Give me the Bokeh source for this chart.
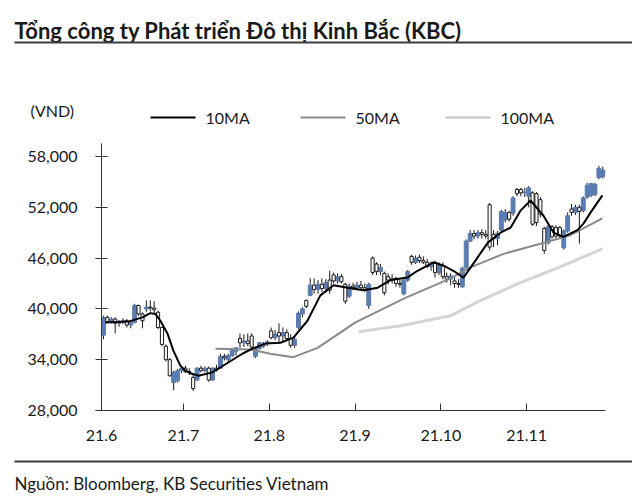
import numpy as np
from bokeh.plotting import figure
from bokeh.models import Range1d, FixedTicker, NumeralTickFormatter, LinearAxis
from bokeh.core.properties import value
from bokeh.embed import file_html
from bokeh.resources import INLINE

TITLE = "Tổng công ty Phát triển Đô thị Kinh Bắc (KBC)"
SOURCE = "Nguồn: Bloomberg, KB Securities Vietnam"
UNIT = "(VND)"
FONT = "Lato"

# Daily OHLC, thousand VND (trading days from 1 Jun 2021)
opens = [36.9, 39.0, 38.5, 38.8, 38.3, 38.5, 38.6, 38.1, 38.4, 40.4,
         39.4, 40.0, 40.2, 40.1, 39.6, 37.8, 35.6, 34.0, 31.3, 31.5,
         32.7, 33.0, 32.6, 31.9, 31.6, 33.0, 32.7, 33.0, 31.6, 33.0,
         33.0, 34.4, 34.0, 34.5, 35.0, 36.5, 36.0, 36.2, 36.8, 34.4,
         35.3, 35.6, 35.9, 37.4, 36.6, 37.2, 36.8, 37.2, 36.5, 35.7,
         37.8, 39.4, 41.0, 41.6, 42.8, 42.3, 42.9, 42.4, 43.4, 44.0,
         43.3, 43.8, 42.9, 41.5, 42.7, 42.5, 42.8, 42.5, 40.4, 46.0,
         45.3, 44.4, 44.2, 43.8, 43.4, 43.6, 43.0, 41.8, 43.4, 46.2,
         45.5, 46.1, 45.7, 45.5, 45.0, 45.4, 44.3, 45.1, 43.8, 43.5,
         43.3, 43.0, 42.6, 44.9, 48.0, 48.9, 48.6, 49.0, 48.8, 52.3,
         48.8, 48.3, 49.3, 50.5, 51.4, 51.3, 54.1, 54.1, 53.7, 53.3,
         53.7, 53.6, 52.9, 49.5, 47.8, 49.7, 49.6, 49.6, 47.2, 49.2,
         51.8, 51.4, 52.0, 51.6, 53.2, 53.4, 53.5, 55.5, 55.6]
highs = [39.2, 39.2, 39.0, 39.0, 38.7, 38.9, 38.8, 38.6, 40.6, 40.5,
         39.6, 41.0, 41.0, 40.9, 39.8, 37.9, 35.8, 34.2, 32.7, 32.9,
         33.3, 33.3, 33.0, 32.2, 33.1, 33.3, 33.2, 33.2, 33.1, 33.4,
         34.7, 34.7, 34.7, 35.4, 35.5, 37.1, 37.0, 37.1, 37.1, 35.5,
         36.1, 36.1, 36.3, 37.8, 37.5, 38.3, 37.8, 37.6, 37.0, 36.9,
         39.7, 40.2, 41.1, 43.6, 43.6, 43.4, 43.6, 43.5, 44.5, 44.3,
         44.2, 44.1, 43.1, 43.0, 43.1, 43.2, 43.3, 43.0, 43.1, 46.2,
         45.5, 45.3, 44.4, 44.2, 44.1, 43.8, 43.5, 43.6, 44.6, 46.4,
         46.3, 46.4, 46.2, 45.9, 45.6, 45.7, 45.5, 45.5, 44.3, 44.2,
         44.0, 43.5, 45.0, 48.2, 49.3, 49.3, 49.3, 49.4, 49.3, 52.5,
         49.3, 49.2, 51.7, 51.8, 51.6, 53.3, 54.3, 54.3, 54.3, 54.5,
         53.9, 53.8, 53.2, 49.7, 49.9, 49.9, 49.9, 49.8, 49.4, 51.4,
         52.4, 52.3, 52.3, 53.3, 54.9, 54.9, 54.9, 56.9, 56.8]
lows = [36.4, 38.3, 38.3, 37.1, 37.9, 38.2, 37.8, 37.7, 38.3, 39.2,
        37.7, 39.6, 39.7, 39.5, 37.6, 35.6, 33.8, 32.0, 30.4, 31.3,
        32.4, 32.4, 32.2, 30.3, 31.5, 32.5, 32.5, 31.4, 31.5, 32.6,
        32.9, 33.9, 33.7, 34.3, 34.5, 35.4, 35.5, 35.6, 35.3, 34.2,
        35.2, 35.4, 35.6, 36.4, 36.3, 35.9, 36.2, 36.3, 35.4, 35.4,
        37.6, 39.0, 40.1, 41.5, 41.8, 41.8, 42.0, 41.9, 41.8, 43.0,
        43.0, 43.0, 40.6, 41.3, 42.2, 42.2, 42.3, 42.0, 40.0, 44.0,
        44.0, 44.0, 41.6, 42.9, 43.0, 42.6, 42.5, 41.6, 43.2, 45.2,
        45.3, 45.4, 45.3, 44.8, 44.5, 43.7, 44.0, 43.5, 43.1, 42.8,
        42.5, 42.5, 42.5, 44.7, 47.9, 48.2, 48.3, 48.3, 48.3, 46.9,
        47.3, 47.5, 49.1, 50.2, 50.3, 51.0, 53.3, 53.3, 53.2, 52.0,
        49.8, 49.8, 50.8, 46.5, 47.6, 48.3, 48.3, 48.4, 47.0, 49.0,
        51.0, 51.1, 47.7, 51.4, 53.0, 53.2, 53.3, 55.3, 55.4]
closes = [39.0, 38.5, 38.8, 38.3, 38.5, 38.6, 38.1, 38.4, 40.4, 39.4,
          38.6, 40.2, 40.1, 39.9, 37.8, 35.8, 34.0, 32.1, 32.5, 32.7,
          33.0, 32.6, 32.5, 30.6, 33.0, 32.7, 33.0, 31.6, 33.0, 32.8,
          34.4, 34.2, 34.5, 35.2, 35.4, 36.0, 36.2, 35.9, 35.5, 35.3,
          36.0, 35.9, 36.1, 36.6, 37.0, 36.8, 37.2, 36.5, 35.7, 36.4,
          39.5, 40.0, 40.3, 42.8, 42.3, 42.9, 42.4, 43.1, 42.2, 43.3,
          43.8, 43.2, 40.9, 42.7, 42.5, 42.8, 42.5, 42.3, 42.9, 44.3,
          44.4, 44.9, 41.9, 43.4, 43.6, 43.0, 42.9, 43.4, 44.4, 45.5,
          46.0, 45.7, 45.5, 45.0, 45.3, 44.3, 45.1, 43.8, 43.5, 43.9,
          43.0, 42.9, 44.8, 48.0, 48.9, 48.6, 49.0, 48.8, 48.6, 47.3,
          48.3, 48.9, 51.5, 51.4, 50.6, 53.1, 53.6, 53.7, 53.8, 54.3,
          50.0, 50.2, 51.2, 46.9, 49.7, 48.5, 48.6, 48.6, 49.2, 51.0,
          51.4, 52.0, 51.5, 53.1, 54.6, 54.8, 54.7, 56.6, 56.4]

# Moving averages (trading-day index, thousand VND)
ma10_day = [0.5, 6.4, 10, 12, 13.3, 14.6, 16.4, 17.9, 19.7, 21, 22.3, 24.4, 27.9,
            32.1, 35.6, 38.2, 41.5, 45.4, 48.7, 52.3, 55.6, 59, 62.6, 66.7, 70.3,
            73.6, 77.9, 80.5, 84.6, 87.2, 89.7, 92.3, 94.9, 98.5, 101.8, 104.4,
            106.9, 109.5, 112.8, 115.4, 117.9, 121.5, 123.1, 124.9, 127.9]
ma10_val = [38.4, 38.5, 39.0, 39.5, 39.4, 38.6, 37.1, 35.1, 33.3, 32.7, 32.4, 32.1, 32.5,
            33.7, 34.7, 35.3, 35.9, 36.0, 36.6, 38.6, 41.6, 42.8, 42.5, 42.2, 42.5,
            43.4, 43.7, 44.5, 45.5, 45.1, 44.5, 43.7, 45.4, 47.8, 49.0, 49.6,
            51.6, 52.8, 51.0, 49.0, 48.5, 49.3, 50.1, 51.4, 53.4]
ma50_day = [28.7, 37.7, 42.8, 48.7, 54.9, 64.6, 77.4, 89, 94.1, 102.6, 112, 119.7, 127.9]
ma50_val = [35.3, 35.2, 34.7, 34.3, 35.4, 38.4, 41.3, 43.6, 44.9, 46.5, 47.7, 48.7, 50.7]
ma100_day = [65.4, 76.2, 89, 96.7, 106.9, 117.2, 127.9]
ma100_val = [37.3, 38.0, 39.2, 41.0, 43.1, 45.0, 47.1]

y_ticks = [28000, 34000, 40000, 46000, 52000, 58000]
month_start = [0, 21, 43, 65, 87, 109]
month_labels = ["21.6", "21.7", "21.8", "21.9", "21.10", "21.11"]
legend_names = ["10MA", "50MA", "100MA"]

# ---- styling / layout (pixels) ----
W, H = 632, 494
PL, PR, PT, PB = 101, 605, 143, 410          # chart area in page pixels
X0, X1 = 0.0, 129.2                           # day axis extent
Y0, Y1 = 28000.0, 59530.0                     # price axis extent
kx = (PR - PL) / (X1 - X0)
ky = (PB - PT) / (Y1 - Y0)
x_full = Range1d(X0 - PL / kx, X1 + (W - PR) / kx)
y_full = Range1d(Y0 - (H - PB) / ky, Y1 + PT / ky)

BLUE = "#5b7cb0"
MA_COLORS = ["#000000", "#8a8a8a", "#d4d4d4"]
MA_WIDTHS = [2, 2, 3]
AXIS_C = "#333333"
TXT_C = "#1a1a1a"
RULE_C = "#3c3c3c"

n = len(closes)
xi = np.arange(n) + 0.5
o = np.array(opens) * 1000
h = np.array(highs) * 1000
l = np.array(lows) * 1000
c = np.array(closes) * 1000
up = c >= o

p = figure(width=W, height=H, x_range=x_full, y_range=y_full,
           x_axis_type=None, y_axis_type=None,
           toolbar_location=None, output_backend="svg", min_border=0,
           outline_line_color=None)
p.extra_x_ranges = {"px": Range1d(0, W)}
p.extra_y_ranges = {"px": Range1d(H, 0)}

# candles
p.segment(x0=xi, y0=l, x1=xi, y1=h, line_color="#1a1a1a", line_width=1)
p.vbar(x=xi[up], width=1.0, bottom=o[up], top=np.maximum(c[up], o[up] + 80),
       fill_color=BLUE, line_color=BLUE, line_width=1)
p.vbar(x=xi[~up], width=0.8, bottom=np.minimum(c[~up], o[~up] - 80), top=o[~up],
       fill_color="white", line_color="#1a1a1a", line_width=1)

# moving averages
for days, vals, col, lw in [(ma100_day, ma100_val, MA_COLORS[2], MA_WIDTHS[2]),
                            (ma50_day, ma50_val, MA_COLORS[1], MA_WIDTHS[1]),
                            (ma10_day, ma10_val, MA_COLORS[0], MA_WIDTHS[0])]:
    p.line(x=np.array(days) + 0.5, y=np.array(vals) * 1000, line_color=col, line_width=lw)

# axes, pinned to the chart area
yaxis = LinearAxis(fixed_location=X0, bounds=(Y0, Y1))
yaxis.ticker = FixedTicker(ticks=y_ticks)
yaxis.formatter = NumeralTickFormatter(format="0,0")
yaxis.major_tick_in = 6
yaxis.major_tick_out = 6
yaxis.major_label_standoff = 18
p.add_layout(yaxis, "left")

xaxis = LinearAxis(fixed_location=Y0, bounds=(X0 - 1.3, X1))
xaxis.ticker = FixedTicker(ticks=month_start)
xaxis.major_label_overrides = {k: v for k, v in zip(month_start, month_labels)}
xaxis.major_tick_in = 7
xaxis.major_tick_out = 0
xaxis.major_label_standoff = 19
p.add_layout(xaxis, "below")

for ax in (xaxis, yaxis):
    ax.minor_tick_in = 0
    ax.minor_tick_out = 0
    ax.axis_line_color = AXIS_C
    ax.major_tick_line_color = AXIS_C
    ax.major_label_text_font = FONT
    ax.major_label_text_font_size = "16px"
    ax.major_label_text_color = TXT_C

# ---- texts and rules (page pixel range) ----
def txt(x, y, s, size, bold=False, baseline="middle"):
    p.text(x=[x], y=[y], text=[s], text_font=value(FONT), text_font_size=size,
           text_font_style="bold" if bold else "normal", text_baseline=baseline,
           text_align="left", text_color=TXT_C, x_range_name="px", y_range_name="px")

def rule(x0, x1, y, w, col):
    p.line(x=[x0, x1], y=[y, y], line_color=col, line_width=w,
           x_range_name="px", y_range_name="px")

txt(14, 30, TITLE, "22px", bold=True, baseline="alphabetic")
rule(14, 632, 42, 2, RULE_C)
txt(30, 110, UNIT, "16px")
for lx, name, col, lw in zip([150, 300, 445], legend_names, MA_COLORS, MA_WIDTHS):
    rule(lx, lx + 45, 117, lw, col)
    txt(lx + 55, 117, name, "16px")
rule(14, 632, 461, 2, RULE_C)
txt(14, 483, SOURCE, "17px")

open("out.html", "w").write(file_html(p, INLINE))
